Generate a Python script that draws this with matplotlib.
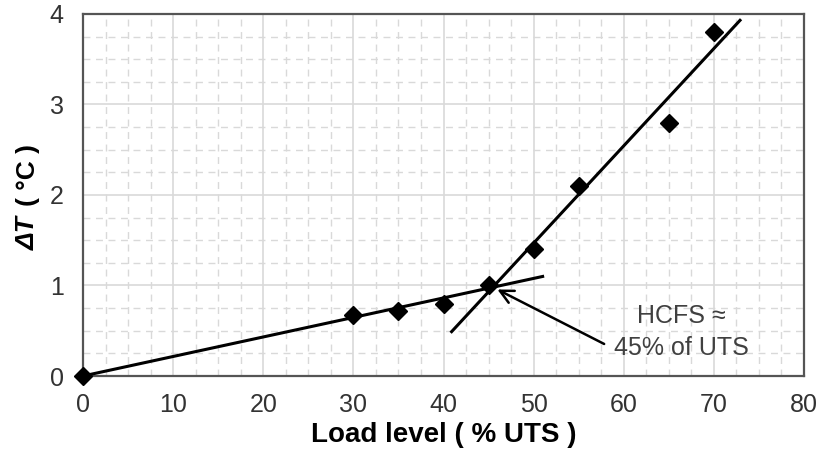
import numpy as np
import matplotlib.pyplot as plt
from matplotlib.ticker import MultipleLocator

plt.rcParams['font.family'] = ['Liberation Sans', 'DejaVu Sans']

# measured points
load = [0, 30, 35, 40, 45, 50, 55, 65, 70]
dT = [0, 0.67, 0.72, 0.80, 1.01, 1.40, 2.10, 2.80, 3.80]

# fitted lines (end points)
line1_x = [0, 51]
line1_y = [0, 1.10]
line2_x = [40.9, 72.9]
line2_y = [0.49, 3.93]

fig = plt.figure(figsize=(8.21, 4.61), dpi=100)
ax = fig.add_axes([83/821, 1 - 376/461, (804 - 83)/821, (376 - 14)/461])

ax.set_xlim(0, 80)
ax.set_ylim(0, 4)
ax.xaxis.set_major_locator(MultipleLocator(10))
ax.yaxis.set_major_locator(MultipleLocator(1))
ax.xaxis.set_minor_locator(MultipleLocator(2.5))
ax.yaxis.set_minor_locator(MultipleLocator(0.25))
ax.grid(which='major', color='#d9d9d9', lw=1.2, ls='-')
ax.grid(which='minor', color='#d9d9d9', lw=1.0, ls=(0, (5, 4)))
ax.set_axisbelow(True)
ax.tick_params(which='both', length=0, labelsize=18, labelcolor='#333333')
ax.tick_params(axis='x', pad=12)
ax.tick_params(axis='y', pad=14)

for s in ax.spines.values():
    s.set_color('#555555')
    s.set_linewidth(1.6)

ax.plot(line1_x, line1_y, color='black', lw=2.2, zorder=3)
ax.plot(line2_x, line2_y, color='black', lw=2.2, zorder=3)
ax.plot(load, dT, 'D', color='black', markersize=9, zorder=4, clip_on=False)

ax.annotate('', xy=(45.7, 0.97), xytext=(58.1, 0.34),
            arrowprops=dict(arrowstyle='->', color='black', lw=1.8,
                            mutation_scale=24))
ax.text(66.4, 0.66, 'HCFS \u2248', ha='center', va='center', fontsize=18,
        color='#404040')
ax.text(66.4, 0.31, '45% of UTS', ha='center', va='center', fontsize=18,
        color='#404040')

ax.set_xlabel('Load level ( % UTS )', fontsize=20, fontweight='bold', labelpad=4)
fig.text(28/821, 1 - 233/461, '\u0394T', rotation=90, ha='center', va='center',
         fontsize=19, fontweight='bold', fontstyle='italic')
fig.text(28/821, 1 - 175/461, '( \u00b0C )', rotation=90, ha='center', va='center',
         fontsize=19, fontweight='bold')

fig.savefig('out.png', dpi=100)
